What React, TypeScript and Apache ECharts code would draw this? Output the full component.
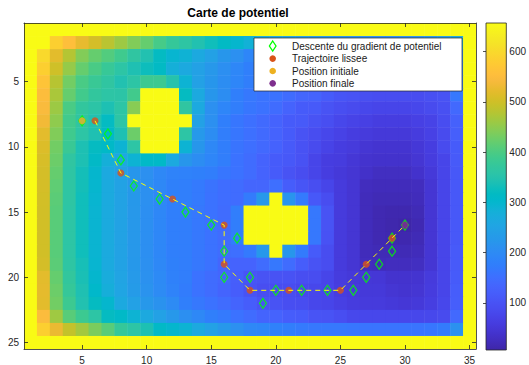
import React, { useEffect, useRef } from "react";
import * as echarts from "echarts";

const FONT = '"Liberation Sans", Arial, Helvetica, sans-serif';

const xTicks = [5, 10, 15, 20, 25, 30, 35];
const yTicks = [5, 10, 15, 20, 25];
const colorbarTicks = [100, 200, 300, 400, 500, 600];
const valueMin = 6;
const valueMax = 657;

// potential map, rows 1..25 (top to bottom), columns 1..35
const potentialRows: number[][] = [
  [658,658,658,658,658,658,658,658,658,658,658,658,658,658,658,658,658,658,658,658,658,658,658,658,658,658,658,658,658,658,658,658,658,658,658],
  [658,658,585,555,525,505,482,461,440,420,395,375,362,345,330,315,300,285,270,260,250,240,232,225,218,212,208,205,205,208,212,220,235,260,658],
  [658,600,520,478,441,420,405,388,365,345,318,295,288,265,245,222,210,190,180,172,165,158,150,144,138,134,130,128,128,130,134,140,152,185,658],
  [658,585,500,455,420,398,378,360,342,328,315,280,265,245,225,208,192,178,168,160,152,145,138,132,126,120,116,114,114,116,120,128,140,178,658],
  [658,565,480,430,398,380,365,345,360,385,385,350,290,245,222,205,190,175,165,157,150,142,135,128,120,114,110,106,106,108,112,120,132,170,658],
  [658,550,470,420,390,370,360,358,390,658,658,658,320,265,222,205,178,165,158,155,145,135,130,115,105,100,92,88,88,88,88,95,100,165,658],
  [658,545,460,398,370,358,340,360,445,658,658,658,365,265,210,190,175,162,155,145,130,115,112,100,90,85,78,75,75,75,78,85,95,140,658],
  [658,535,450,390,365,345,318,360,658,658,658,658,658,245,210,178,162,152,142,130,115,112,100,90,78,72,66,60,60,60,66,72,88,125,658],
  [658,520,440,388,360,342,312,340,425,658,658,658,360,228,205,175,162,152,142,130,115,100,88,78,70,60,55,52,52,52,58,68,85,122,658],
  [658,512,430,380,340,320,310,290,360,658,658,658,290,222,195,175,160,150,140,128,112,98,85,72,60,55,45,42,42,42,50,60,85,115,658],
  [658,508,425,365,340,312,280,258,290,310,310,265,222,205,190,175,155,145,130,115,110,98,75,60,58,48,40,38,38,38,45,58,75,112,658],
  [658,505,420,362,333,300,265,245,222,210,195,185,183,180,175,162,155,145,130,115,100,88,75,60,52,45,35,28,28,28,38,52,75,110,658],
  [658,505,415,362,333,298,268,248,225,210,195,180,178,168,158,148,145,135,135,150,118,105,90,75,55,45,25,22,22,22,25,45,75,110,658],
  [658,503,412,362,330,295,268,248,226,210,195,180,178,168,155,148,145,170,225,658,218,168,110,88,55,45,22,18,18,18,22,45,75,110,658],
  [658,502,410,360,330,293,267,247,225,208,193,178,175,165,155,145,175,658,658,658,658,658,165,100,55,45,22,15,12,12,18,45,75,110,658],
  [658,502,410,360,330,293,267,247,225,208,193,178,175,165,155,145,175,658,658,658,658,658,165,100,55,45,22,15,10,6,15,45,75,110,658],
  [658,502,410,360,330,293,267,247,225,208,193,178,175,165,155,145,175,658,658,658,658,658,165,98,55,45,22,15,12,12,18,45,75,110,658],
  [658,502,410,360,330,293,267,247,225,208,193,178,175,165,155,145,150,168,225,658,222,170,115,88,55,45,22,18,18,18,22,45,75,112,658],
  [658,505,412,362,335,295,268,248,226,210,195,180,175,165,155,135,130,130,145,165,145,118,100,88,55,45,25,22,25,25,28,45,75,112,658],
  [658,520,420,370,338,300,272,252,230,213,198,182,175,155,145,135,120,105,100,100,98,90,88,75,58,52,50,48,40,40,42,55,75,115,658],
  [658,522,425,375,342,305,278,255,233,216,200,185,172,155,145,132,118,100,90,88,88,80,78,75,60,55,52,52,45,42,45,58,75,118,658],
  [658,520,430,385,345,320,300,265,245,225,215,200,178,165,155,145,132,118,102,100,90,88,78,75,65,58,55,55,52,48,52,62,78,120,658],
  [658,548,462,410,385,360,320,310,290,265,245,225,208,195,178,168,155,145,132,130,118,115,102,100,90,80,78,78,78,78,78,80,85,140,658],
  [658,585,528,490,465,435,410,375,360,340,312,300,290,265,245,225,210,195,190,182,176,168,165,165,165,162,160,160,160,160,160,162,170,212,658],
  [658,658,658,658,658,658,658,658,658,658,658,658,658,658,658,658,658,658,658,658,658,658,658,658,658,658,658,658,658,658,658,658,658,658,658],
];

const descentPath: number[][] = [
  [5, 8], [7, 9], [8, 11], [9, 13], [11, 14], [13, 15], [15, 16], [17, 17],
  [16, 18], [16, 20], [18, 20], [19, 22], [20, 21], [22, 21], [24, 21], [26, 21],
  [27, 20], [28, 19], [29, 18], [29, 17], [30, 16],
];
const smoothPath: number[][] = [
  [6, 8], [8, 12], [12, 14], [16, 16], [16, 19], [18, 21], [21, 21], [25, 21], [27, 19], [29, 17],
];
const smoothLine: number[][] = [...smoothPath, [30, 16]];
const startPosition: number[][] = [[5, 8]];
const endPosition: number[][] = [[30, 16]];

const legendNames = [
  "Descente du gradient de potentiel",
  "Trajectoire lissee",
  "Position initiale",
  "Position finale",
];

const parulaRGB: number[][] = [
  [0.2422,0.1504,0.6603],[0.2504,0.1650,0.7076],[0.2578,0.1818,0.7511],[0.2647,0.1978,0.7952],
  [0.2706,0.2147,0.8364],[0.2751,0.2342,0.8710],[0.2783,0.2559,0.8991],[0.2803,0.2782,0.9221],
  [0.2813,0.3006,0.9414],[0.2810,0.3228,0.9579],[0.2795,0.3447,0.9717],[0.2760,0.3667,0.9829],
  [0.2699,0.3892,0.9906],[0.2602,0.4123,0.9952],[0.2440,0.4358,0.9988],[0.2206,0.4603,0.9973],
  [0.1963,0.4847,0.9892],[0.1834,0.5074,0.9798],[0.1786,0.5289,0.9682],[0.1764,0.5499,0.9520],
  [0.1687,0.5703,0.9359],[0.1540,0.5902,0.9218],[0.1460,0.6091,0.9079],[0.1380,0.6276,0.8973],
  [0.1248,0.6459,0.8883],[0.1113,0.6635,0.8763],[0.0952,0.6798,0.8598],[0.0689,0.6948,0.8394],
  [0.0297,0.7082,0.8163],[0.0036,0.7203,0.7917],[0.0067,0.7312,0.7660],[0.0433,0.7411,0.7394],
  [0.0964,0.7500,0.7120],[0.1408,0.7584,0.6842],[0.1717,0.7670,0.6554],[0.1938,0.7758,0.6251],
  [0.2161,0.7843,0.5923],[0.2470,0.7918,0.5567],[0.2906,0.7973,0.5188],[0.3406,0.8008,0.4789],
  [0.3909,0.8029,0.4354],[0.4456,0.8024,0.3909],[0.5044,0.7993,0.3480],[0.5616,0.7942,0.3045],
  [0.6174,0.7876,0.2612],[0.6720,0.7793,0.2227],[0.7242,0.7698,0.1910],[0.7738,0.7598,0.1646],
  [0.8203,0.7498,0.1535],[0.8634,0.7406,0.1596],[0.9035,0.7330,0.1774],[0.9393,0.7288,0.2100],
  [0.9728,0.7298,0.2394],[0.9956,0.7434,0.2371],[0.9970,0.7659,0.2199],[0.9952,0.7893,0.2028],
  [0.9892,0.8136,0.1885],[0.9786,0.8386,0.1766],[0.9676,0.8639,0.1643],[0.9610,0.8890,0.1537],
  [0.9597,0.9135,0.1423],[0.9628,0.9373,0.1265],[0.9691,0.9606,0.1064],[0.9769,0.9839,0.0805],
];
const parula = parulaRGB.map(
  ([r, g, b]) => `rgb(${Math.round(r * 255)},${Math.round(g * 255)},${Math.round(b * 255)})`
);

const AXIS_COLOR = "#262626";

export default function App() {
  const ref = useRef<HTMLDivElement>(null);

  useEffect(() => {
    if (!ref.current) return;
    const chart = echarts.init(ref.current, undefined, { renderer: "svg" });

    const cells: number[][] = [];
    potentialRows.forEach((row, r) => row.forEach((v, c) => cells.push([c + 1, r + 1, v])));

    const axisLine = { show: true, lineStyle: { color: AXIS_COLOR, width: 0.8 } };
    const tickStyle = { color: AXIS_COLOR, width: 0.8 };
    const labelStyle = { color: AXIS_COLOR, fontSize: 10, fontFamily: FONT };

    const legendY = [46, 58.6, 71, 83.3];
    const legendIconX = 272.7;

    const option: any = {
      animation: false,
      backgroundColor: "#ffffff",
      grid: [
        { left: 24, top: 23, width: 452, height: 327 },
        { left: 486, top: 23, width: 23, height: 327 },
      ],
      xAxis: [
        {
          type: "value", gridIndex: 0, min: 0.5, max: 35.5, position: "bottom", z: 10,
          axisLine, splitLine: { show: false },
          axisTick: { show: true, inside: true, length: 4, customValues: xTicks, lineStyle: tickStyle },
          axisLabel: { show: true, customValues: xTicks, margin: 6, ...labelStyle },
        },
        {
          type: "value", gridIndex: 0, min: 0.5, max: 35.5, position: "top", z: 10,
          axisLine, splitLine: { show: false },
          axisTick: { show: true, inside: true, length: 4, customValues: xTicks, lineStyle: tickStyle },
          axisLabel: { show: false },
        },
        { type: "value", gridIndex: 1, min: 0, max: 1, show: false },
      ],
      yAxis: [
        {
          type: "value", gridIndex: 0, min: 0.5, max: 25.5, inverse: true, position: "left", z: 10,
          axisLine, splitLine: { show: false },
          axisTick: { show: true, inside: true, length: 4, customValues: yTicks, lineStyle: tickStyle },
          axisLabel: { show: true, customValues: yTicks, margin: 5, ...labelStyle },
        },
        {
          type: "value", gridIndex: 0, min: 0.5, max: 25.5, inverse: true, position: "right", z: 10,
          axisLine, splitLine: { show: false },
          axisTick: { show: true, inside: true, length: 4, customValues: yTicks, lineStyle: tickStyle },
          axisLabel: { show: false },
        },
        {
          type: "value", gridIndex: 1, min: valueMin, max: valueMax, position: "right", z: 10,
          axisLine: { show: false }, splitLine: { show: false },
          axisTick: { show: true, inside: true, length: 3, customValues: colorbarTicks, lineStyle: tickStyle },
          axisLabel: { show: true, customValues: colorbarTicks, margin: 3, ...labelStyle },
        },
      ],
      visualMap: {
        type: "continuous",
        show: false,
        min: valueMin,
        max: valueMax,
        dimension: 2,
        seriesIndex: 0,
        inRange: { color: parula },
      },
      series: [
        {
          type: "custom",
          name: "potentiel",
          xAxisIndex: 0,
          yAxisIndex: 0,
          z: 1,
          clip: true,
          silent: true,
          encode: { x: 0, y: 1 },
          data: cells,
          renderItem: (params: any, api: any) => {
            const x = api.value(0);
            const y = api.value(1);
            const p0 = api.coord([x - 0.5, y - 0.5]);
            const p1 = api.coord([x + 0.5, y + 0.5]);
            return {
              type: "rect",
              shape: {
                x: Math.min(p0[0], p1[0]),
                y: Math.min(p0[1], p1[1]),
                width: Math.abs(p1[0] - p0[0]) + 0.5,
                height: Math.abs(p1[1] - p0[1]) + 0.5,
              },
              style: { fill: api.visual("color") },
            };
          },
        },
        {
          type: "scatter",
          name: legendNames[0],
          xAxisIndex: 0, yAxisIndex: 0, z: 3, silent: true,
          symbol: "diamond",
          symbolSize: [7, 10],
          itemStyle: { color: "rgba(0,0,0,0)", borderColor: "#00ff00", borderWidth: 1.3 },
          data: descentPath,
        },
        {
          type: "scatter",
          name: legendNames[1],
          xAxisIndex: 0, yAxisIndex: 0, z: 4, silent: true,
          symbol: "circle", symbolSize: 7,
          itemStyle: { color: "#d95319" },
          data: smoothPath,
        },
        {
          type: "scatter",
          name: legendNames[2],
          xAxisIndex: 0, yAxisIndex: 0, z: 5, silent: true,
          symbol: "circle", symbolSize: 7,
          itemStyle: { color: "#edb120" },
          data: startPosition,
        },
        {
          type: "scatter",
          name: legendNames[3],
          xAxisIndex: 0, yAxisIndex: 0, z: 5, silent: true,
          symbol: "circle", symbolSize: 7,
          itemStyle: { color: "#7e2f8e" },
          data: endPosition,
        },
        {
          type: "line",
          name: "trajet",
          xAxisIndex: 0, yAxisIndex: 0, z: 6, silent: true,
          showSymbol: false,
          lineStyle: { color: "#ffff00", width: 1, type: [5, 4] },
          data: smoothLine,
        },
        {
          type: "custom",
          name: "colorbar",
          xAxisIndex: 2,
          yAxisIndex: 2,
          z: 1,
          silent: true,
          data: [[0.5, (valueMin + valueMax) / 2]],
          renderItem: (params: any, api: any) => {
            const top = api.coord([0, valueMax]);
            const bottom = api.coord([1, valueMin]);
            const stops = parula.map((c, i) => ({ offset: i / (parula.length - 1), color: c }));
            return {
              type: "rect",
              shape: {
                x: top[0],
                y: top[1],
                width: bottom[0] - top[0],
                height: bottom[1] - top[1],
              },
              style: {
                fill: new echarts.graphic.LinearGradient(0, 1, 0, 0, stops),
                stroke: AXIS_COLOR,
                lineWidth: 0.8,
              },
            };
          },
        },
      ],
      graphic: [
        {
          type: "text",
          x: 238,
          y: 13,
          z: 100,
          style: {
            text: "Carte de potentiel",
            font: `bold 12px ${FONT}`,
            fill: "#000",
            align: "center",
            verticalAlign: "middle",
            textAlign: "center",
            textVerticalAlign: "middle",
          },
        },
        {
          type: "rect",
          z: 100,
          shape: { x: 254, y: 38, width: 208, height: 53 },
          style: { fill: "#ffffff", stroke: AXIS_COLOR, lineWidth: 0.7 },
        },
        {
          type: "polygon",
          z: 101,
          shape: {
            points: [
              [legendIconX, legendY[0] - 5],
              [legendIconX + 3.3, legendY[0]],
              [legendIconX, legendY[0] + 5],
              [legendIconX - 3.3, legendY[0]],
            ],
          },
          style: { fill: "none", stroke: "#00ff00", lineWidth: 1.3 },
        },
        { type: "circle", z: 101, shape: { cx: legendIconX, cy: legendY[1], r: 3.3 }, style: { fill: "#d95319" } },
        { type: "circle", z: 101, shape: { cx: legendIconX, cy: legendY[2], r: 3.3 }, style: { fill: "#edb120" } },
        { type: "circle", z: 101, shape: { cx: legendIconX, cy: legendY[3], r: 3.3 }, style: { fill: "#7e2f8e" } },
        ...legendNames.map((name, i) => ({
          type: "text",
          x: 292,
          y: legendY[i],
          z: 101,
          style: {
            text: name,
            font: `10px ${FONT}`,
            fill: "#1a1a1a",
            align: "left",
            verticalAlign: "middle",
            textAlign: "left",
            textVerticalAlign: "middle",
          },
        })),
      ],
    };

    chart.setOption(option);
    return () => chart.dispose();
  }, []);

  return (
    <div
      ref={ref}
      style={{ position: "fixed", left: 0, top: 0, width: 529, height: 365, background: "#fff" }}
    />
  );
}
